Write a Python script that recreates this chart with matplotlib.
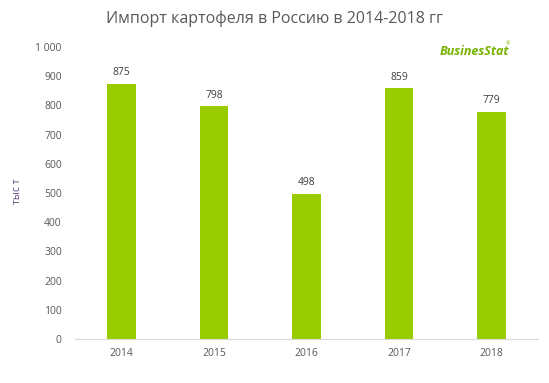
import matplotlib.pyplot as plt

years = ["2014", "2015", "2016", "2017", "2018"]
values = [875, 798, 498, 859, 779]
yticks = [0, 100, 200, 300, 400, 500, 600, 700, 800, 900, 1000]
ytick_labels = ["0", "100", "200", "300", "400", "500", "600", "700", "800", "900", "1 000"]

plt.rcParams["font.family"] = ["Open Sans", "DejaVu Sans"]

fig = plt.figure(figsize=(5.49, 3.83), dpi=100)
ax = fig.add_axes([0.1366, 0.115, 0.8434, 0.762])

x = range(len(years))
bars = ax.bar(x, values, width=0.31, color="#99cc00")
for xi, v in zip(x, values):
    ax.text(xi, v + 18, str(v), ha="center", va="bottom", fontsize=7.5, color="#404040")

ax.set_xlim(-0.5, len(years) - 0.5)
ax.set_ylim(0, 1000)
ax.set_xticks(list(x))
ax.set_xticklabels(years, fontsize=7.5, color="#595959")
ax.set_yticks(yticks)
ax.set_yticklabels(ytick_labels, fontsize=7.5, color="#595959")
ax.tick_params(axis="x", length=0, pad=6.5)
ax.tick_params(axis="y", length=0, pad=9.5)
for side in ["top", "right", "left"]:
    ax.spines[side].set_visible(False)
ax.spines["bottom"].set_color("#d9d9d9")

fig.text(17 / 549, 0.5, "тыс т", rotation=90, ha="center", va="center",
         fontsize=7.5, color="#604a7b")
fig.text(0.5, 0.952, "Импорт картофеля в Россию в 2014-2018 гг", ha="center", va="center",
         fontsize=11.5, color="#595959")
fig.text(0.864, 0.865, "BusinesStat", ha="center", va="center", fontsize=9,
         color="#77b300", fontweight="bold", fontstyle="italic")
fig.text(0.925, 0.885, "®", ha="center", va="center", fontsize=4, color="#77b300")

fig.savefig("out.png", dpi=100)
